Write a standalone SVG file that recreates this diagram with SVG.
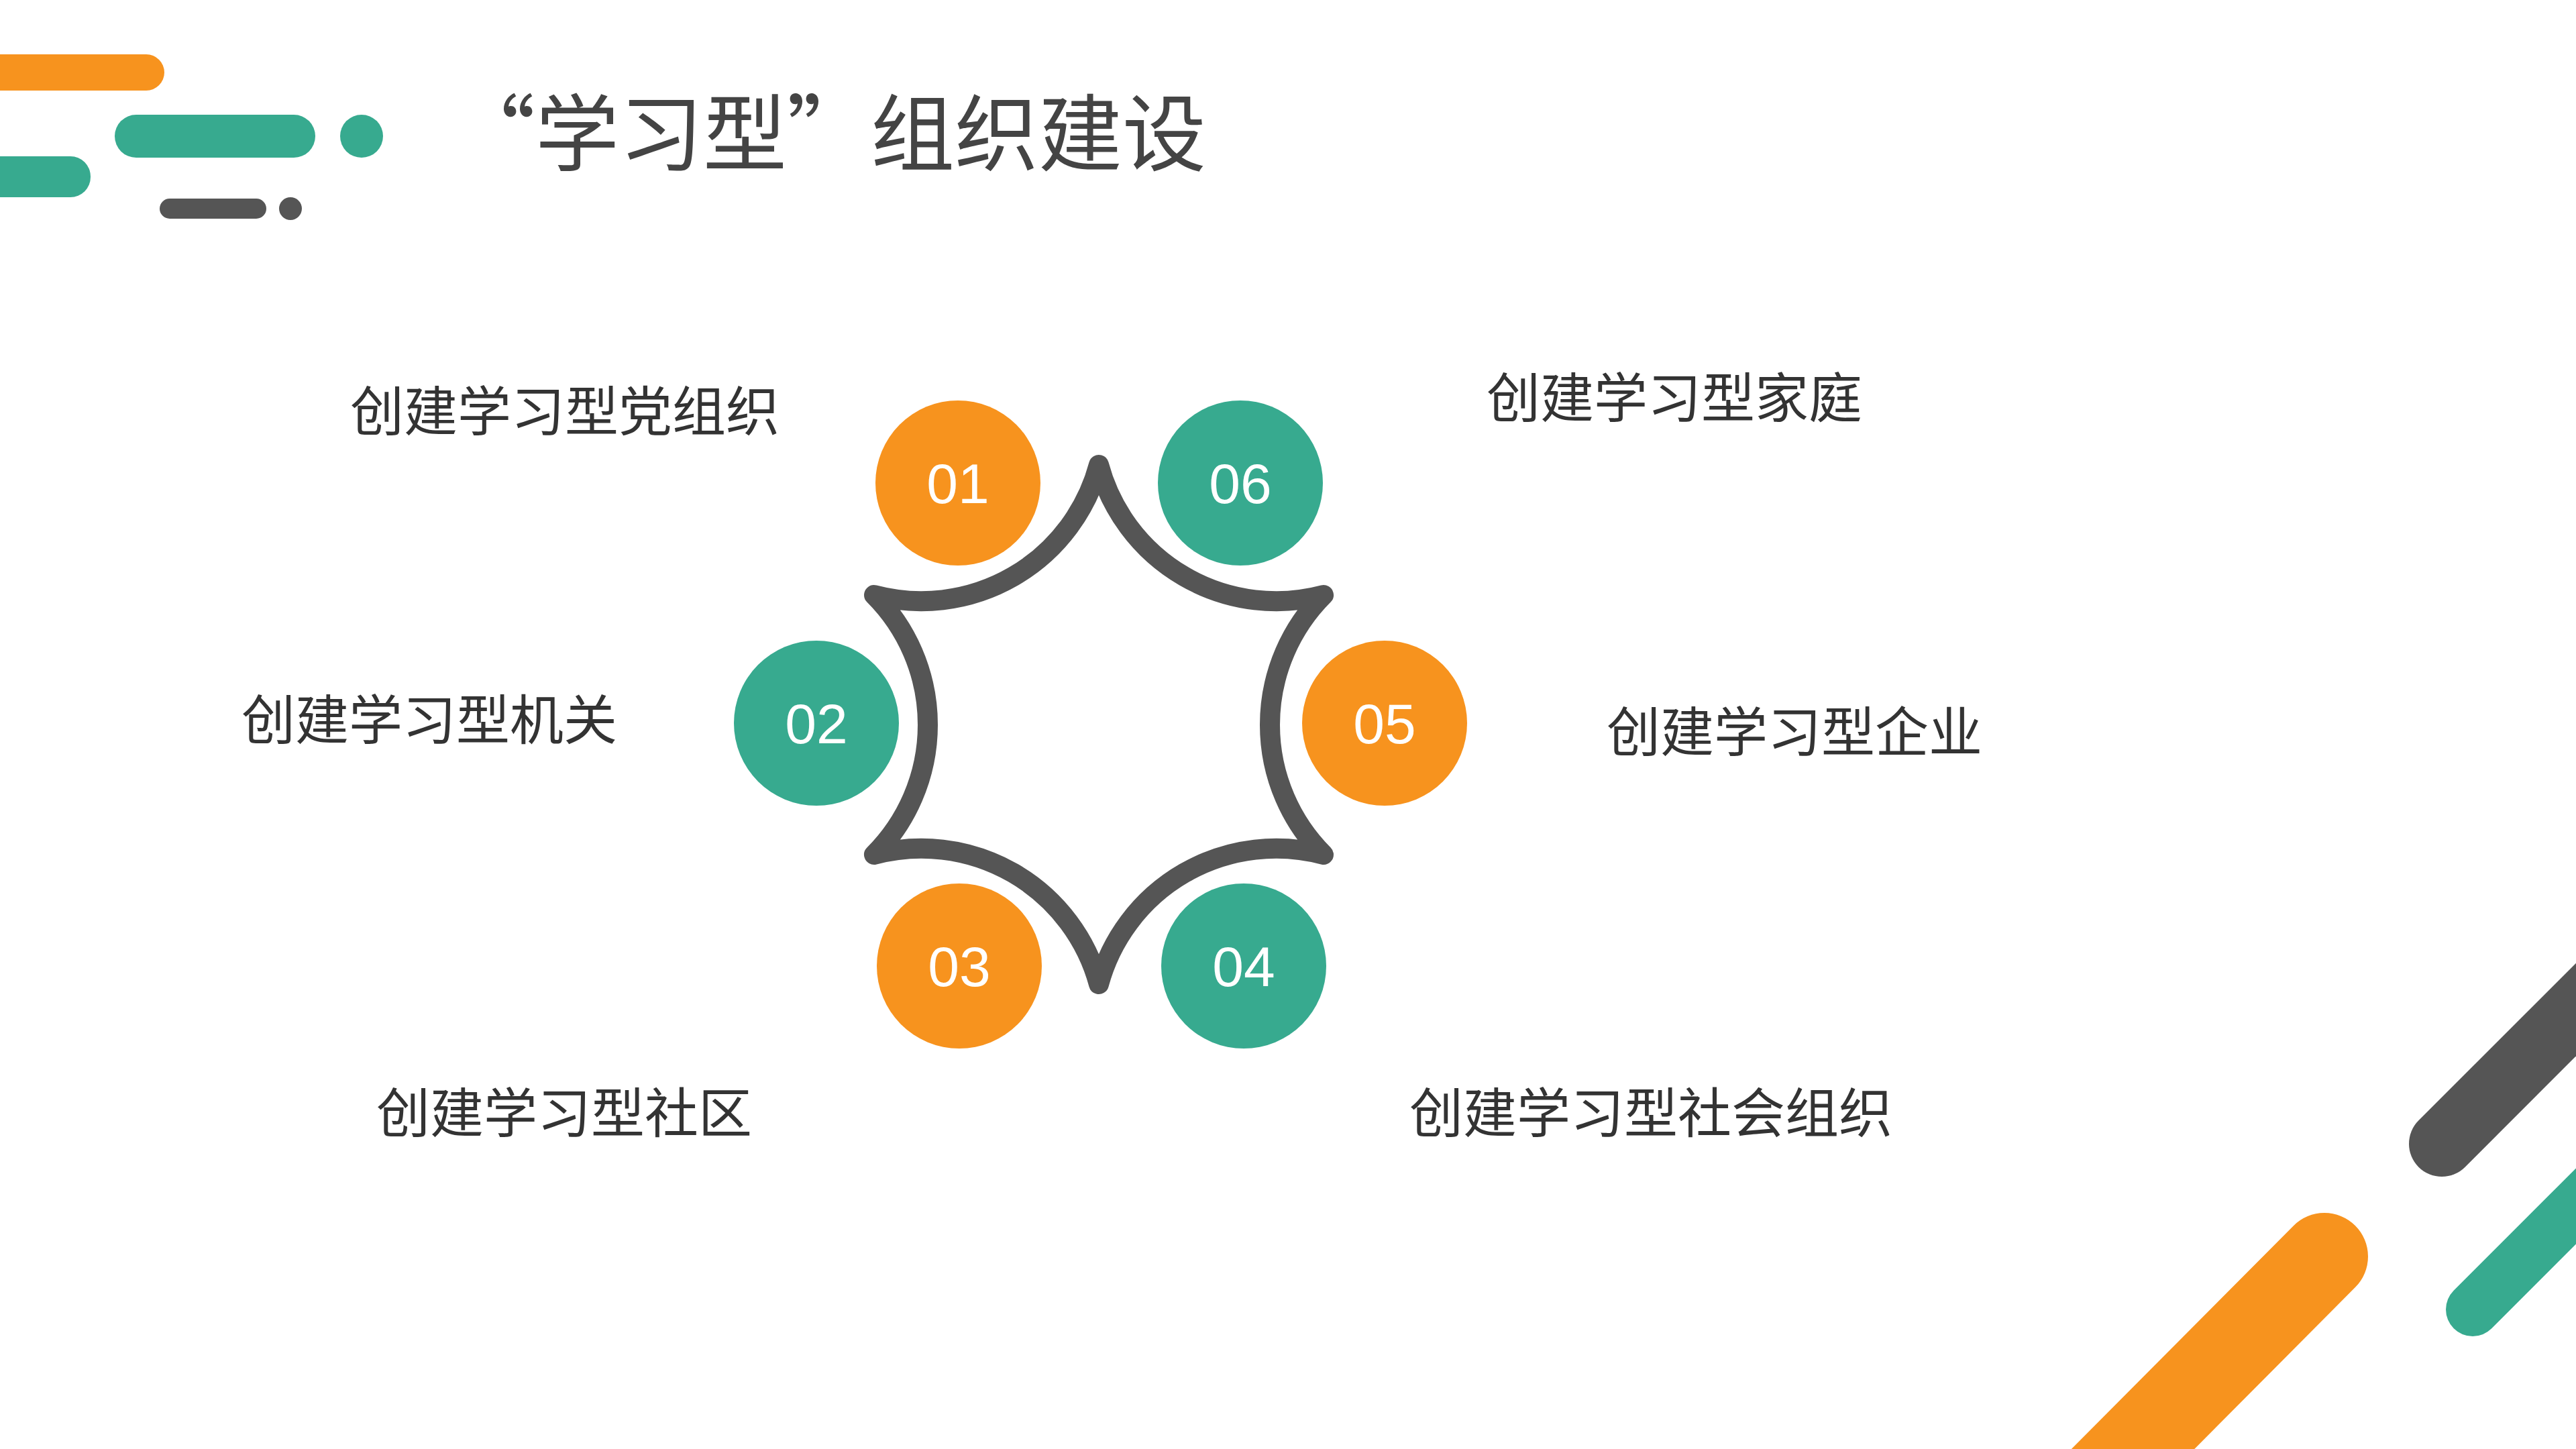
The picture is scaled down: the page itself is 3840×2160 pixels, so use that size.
<svg xmlns="http://www.w3.org/2000/svg" width="3840" height="2160" viewBox="0 0 3840 2160">
<style>
.lbl{font-family:"Noto Sans CJK SC","Liberation Sans",sans-serif;font-size:80px;fill:#333}
.num{font-family:"Liberation Sans",Arial,sans-serif;font-size:84px;fill:#fff;text-anchor:middle}
.o{fill:#F7931E}.t{fill:#37AA8F}.g{fill:#555}
</style>
<rect width="3840" height="2160" fill="#fff"/>
<g id="deco-top">
<rect x="-60" y="81" width="305" height="54" rx="27" class="o"/>
<rect x="171" y="171" width="299" height="64" rx="32" class="t"/>
<circle cx="539" cy="203" r="32" class="t"/>
<rect x="-60" y="233" width="195" height="61" rx="30" class="t"/>
<rect x="238" y="296" width="159" height="30" rx="15" class="g"/>
<circle cx="433" cy="311" r="17" class="g"/>
</g>
<text x="673" y="245" style="font-family:'Noto Sans CJK SC',sans-serif;font-size:125px;fill:#444">“学习型”组织建设</text>
<g id="star">
<path d="M1638,693 A274,274 0 0 0 1973,887 A274,274 0 0 0 1973,1274 A274,274 0 0 0 1638,1467 A274,274 0 0 0 1303,1274 A274,274 0 0 0 1303,887 A274,274 0 0 0 1638,693 Z" fill="none" stroke="#555" stroke-width="30" stroke-linejoin="round"/>
</g>
<g id="n01"><circle cx="1428" cy="720" r="123" class="o"/><text x="1428" y="750" class="num">01</text></g>
<g id="n06"><circle cx="1849" cy="720" r="123" class="t"/><text x="1849" y="750" class="num">06</text></g>
<g id="n02"><circle cx="1217" cy="1078" r="123" class="t"/><text x="1217" y="1108" class="num">02</text></g>
<g id="n05"><circle cx="2064" cy="1078" r="123" class="o"/><text x="2064" y="1108" class="num">05</text></g>
<g id="n03"><circle cx="1430" cy="1440" r="123" class="o"/><text x="1430" y="1470" class="num">03</text></g>
<g id="n04"><circle cx="1854" cy="1440" r="123" class="t"/><text x="1854" y="1470" class="num">04</text></g>
<g id="labels">
<text x="522" y="642" class="lbl">创建学习型党组织</text>
<text x="2216" y="622" class="lbl">创建学习型家庭</text>
<text x="360" y="1102" class="lbl">创建学习型机关</text>
<text x="2395" y="1120" class="lbl">创建学习型企业</text>
<text x="561" y="1688" class="lbl">创建学习型社区</text>
<text x="2101" y="1688" class="lbl">创建学习型社会组织</text>
</g>
<g id="deco-bottom" stroke-linecap="round">
<line x1="3640" y1="1705" x2="3950" y2="1395" stroke="#555" stroke-width="98"/>
<line x1="3465" y1="1873" x2="3100" y2="2240" stroke="#F7931E" stroke-width="130"/>
<line x1="3686" y1="1952" x2="3900" y2="1738" stroke="#37AA8F" stroke-width="80"/>
</g>
</svg>
